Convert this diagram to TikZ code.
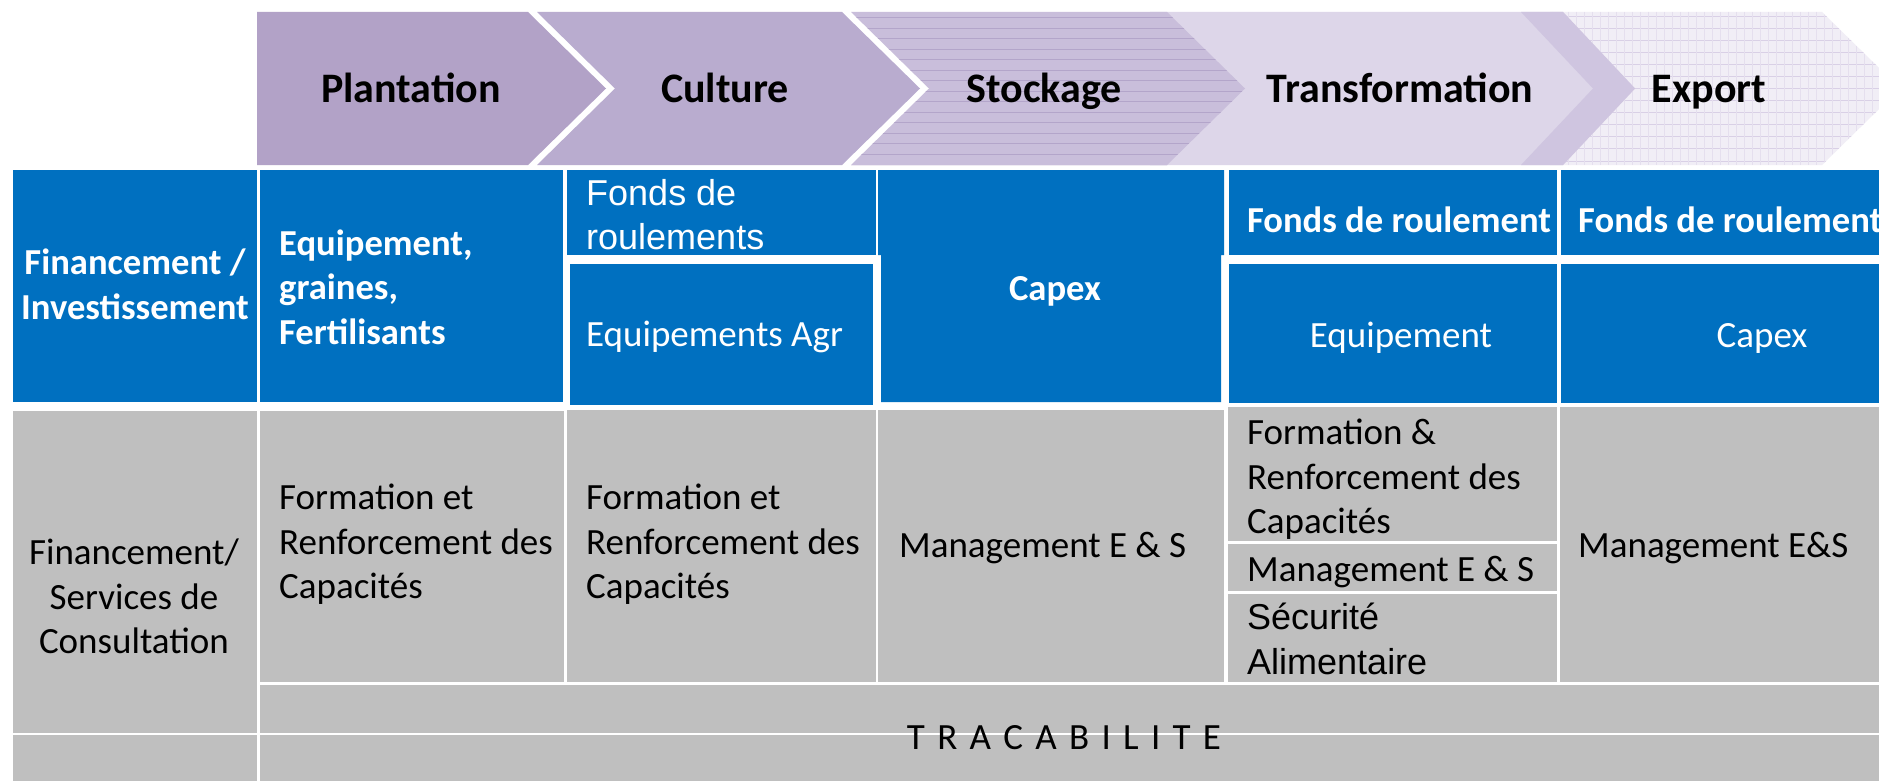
\documentclass[tikz,border=0pt]{standalone}
\usepackage{fontspec}
\setmainfont{Carlito}
\newfontfamily\arialf{Liberation Sans}
\definecolor{blu}{HTML}{0070C0}
\definecolor{gry}{HTML}{BFBFBF}
\definecolor{plantcol}{HTML}{B2A2C7}
\definecolor{cultcol}{HTML}{B9ACCF}
\definecolor{stockcol}{HTML}{C9BEDB}
\definecolor{stockline}{HTML}{B3A5CA}
\definecolor{trcol}{HTML}{DDD6E9}
\definecolor{trshadow}{HTML}{CFC5E0}
\definecolor{expcol}{HTML}{F1EEF6}
\definecolor{expline}{HTML}{D9D0E6}
\newcommand{\lsp}{\hspace{12.3pt}}
\begin{document}
\begin{tikzpicture}[x=1pt,y=-1pt,
  chevtext/.style={font=\fontsize{42}{50}\selectfont\bfseries, anchor=base, inner sep=0pt, text=black},
  wbold/.style={text=white, font=\fontsize{36.6}{44.5}\selectfont\bfseries, inner sep=0pt, execute at begin node=\strut, execute at end node=\strut},
  wboldone/.style={text=white, font=\fontsize{36.6}{44.5}\selectfont\bfseries, inner sep=0pt},
  wreg/.style={text=white, font=\fontsize{37}{44.5}\selectfont, inner sep=0pt},
  warial/.style={text=white, font=\arialf\fontsize{36}{43.5}\selectfont, inner sep=0pt, execute at begin node=\strut, execute at end node=\strut},
  kreg/.style={text=black, font=\fontsize{37}{44.5}\selectfont, inner sep=0pt, execute at begin node=\strut, execute at end node=\strut},
  kregone/.style={text=black, font=\fontsize{37}{44.5}\selectfont, inner sep=0pt},
  karial/.style={text=black, font=\arialf\fontsize{36}{45}\selectfont, inner sep=0pt, execute at begin node=\strut, execute at end node=\strut},
  bluecell/.style={fill=blu},
  graycell/.style={fill=gry}
]
\useasboundingbox (0,0) rectangle (1879,781);
\fill[white] (0,0) rectangle (1879,781);

% ---------- chevrons ----------
% Export
\fill[expcol] (1550,12) -- (1822,12) -- (1900,88.5) -- (1822,165) -- (1550,165) -- cycle;
\begin{scope}
  \clip (1550,12) -- (1822,12) -- (1900,88.5) -- (1822,165) -- (1550,165) -- cycle;
  \foreach \yy in {17,29,...,165} \draw[expline, line width=1pt] (1550,\yy) -- (1900,\yy);
  \foreach \xx in {1552,1560,...,1900} \draw[expline!50!expcol, line width=0.6pt] (\xx,12) -- (\xx,165);
\end{scope}
% Transformation
\fill[trcol] (1150,12) -- (1563,12) -- (1635,88.5) -- (1563,165) -- (1150,165) -- cycle;
\fill[trshadow] (1521,12) -- (1563,12) -- (1635,88.5) -- (1563,165) -- (1521,165) -- (1593,88.5) -- cycle;
% Stockage
\fill[stockcol] (851,12) -- (1167,12) -- (1245,88.5) -- (1167,165) -- (851,165) -- (929,88.5) -- cycle;
\begin{scope}
  \clip (851,12) -- (1167,12) -- (1245,88.5) -- (1167,165) -- (851,165) -- (929,88.5) -- cycle;
  \foreach \yy in {18,28.5,...,165} \draw[stockline, line width=1pt] (840,\yy) -- (1250,\yy);
\end{scope}
% Culture
\fill[cultcol] (537,12) -- (842,12) -- (920,88.5) -- (842,165) -- (537,165) -- (615,88.5) -- cycle;
% Plantation
\fill[plantcol] (257,12) -- (528,12) -- (606,88.5) -- (528,165) -- (257,165) -- cycle;

\node[chevtext] (plantation) at (411,103) {Plantation};
\node[chevtext] (culture) at (725,103) {Culture};
\node[chevtext] (stockage) at (1044,103) {Stockage};
\node[chevtext] (transformation) at (1400,103) {Transformation};
\node[chevtext] (export) at (1709,103) {Export};

% ---------- blue row ----------
\fill[bluecell] (13,170) rectangle (257,402);
\fill[bluecell] (260,170) rectangle (563,402);
\fill[bluecell] (567,170) rectangle (876,255);
\fill[bluecell] (570,264) rectangle (873,405);
\fill[bluecell] (878,170) -- (1224,170) -- (1224,255) -- (1221,255) -- (1221,402) -- (881,402) -- (881,255) -- (878,255) -- cycle;
\fill[bluecell] (1229,170) rectangle (1557,255);
\fill[bluecell] (1229,264) rectangle (1557,403);
\fill[bluecell] (1561,170) rectangle (1879,255);
\fill[bluecell] (1561,264) rectangle (1879,403);

\node[wbold, align=center] (fininv) at (135,291) {Financement /\\Investissement};
\node[wbold, align=left, anchor=west] (equip) at (279,293.5) {Equipement,\\graines,\\Fertilisants};
\node[warial, align=left, anchor=west] (fonds1) at (586,221) {Fonds de\\roulements};
\node[wreg, anchor=base west] (equipagr) at (586,346) {Equipements Agr};
\node[wboldone, anchor=base] (capex1) at (1055,300) {Capex};
\node[wboldone, anchor=base] (fonds2) at (1399,232) {Fonds de roulement};
\node[wboldone, anchor=base west] (fonds3) at (1578,232) {Fonds de roulement};
\node[wreg, anchor=base] (equip2) at (1401,347) {Equipement};
\node[wreg, anchor=base] (capex2) at (1762,347) {Capex};

% ---------- gray rows ----------
\fill[graycell] (13,411) rectangle (257,733);
\fill[graycell] (13,735) rectangle (257,781);
\fill[graycell] (260,411) rectangle (564,682);
\fill[graycell] (567,410) rectangle (876,682);
\fill[graycell] (878,410) rectangle (1224,682);
\fill[graycell] (1228,407) rectangle (1557,541);
\fill[graycell] (1228,544) rectangle (1557,591);
\fill[graycell] (1228,594) rectangle (1557,682);
\fill[graycell] (1560,407) rectangle (1879,682);
\fill[graycell] (260,685) rectangle (1879,733);
\fill[graycell] (260,735) rectangle (1879,781);

\node[kreg, align=center] (finserv) at (134,603) {Financement/\\Services de\\Consultation};
\node[kreg, align=left, anchor=west] (form1) at (279,548) {Formation et\\Renforcement des\\Capacités};
\node[kreg, align=left, anchor=west] (form2) at (586,548) {Formation et\\Renforcement des\\Capacités};
\node[kregone, anchor=base west] (mgmt1) at (899,557) {Management E \& S};
\node[kreg, align=left, anchor=west] (form3) at (1247,483) {Formation \&\\Renforcement des\\Capacités};
\node[kregone, anchor=base west] (mgmt2) at (1247,581) {Management E \& S};
\node[karial, align=left, anchor=west] (secu) at (1247,645) {Sécurité\\Alimentaire};
\node[kregone, anchor=base west] (mgmt3) at (1578,557) {Management E\&S};
\node[kregone, anchor=base] (trac) at (1064,749) {T\lsp R\lsp A\lsp C\lsp A\lsp B\lsp I\lsp L\lsp I\lsp T\lsp E};
\end{tikzpicture}
\end{document}
